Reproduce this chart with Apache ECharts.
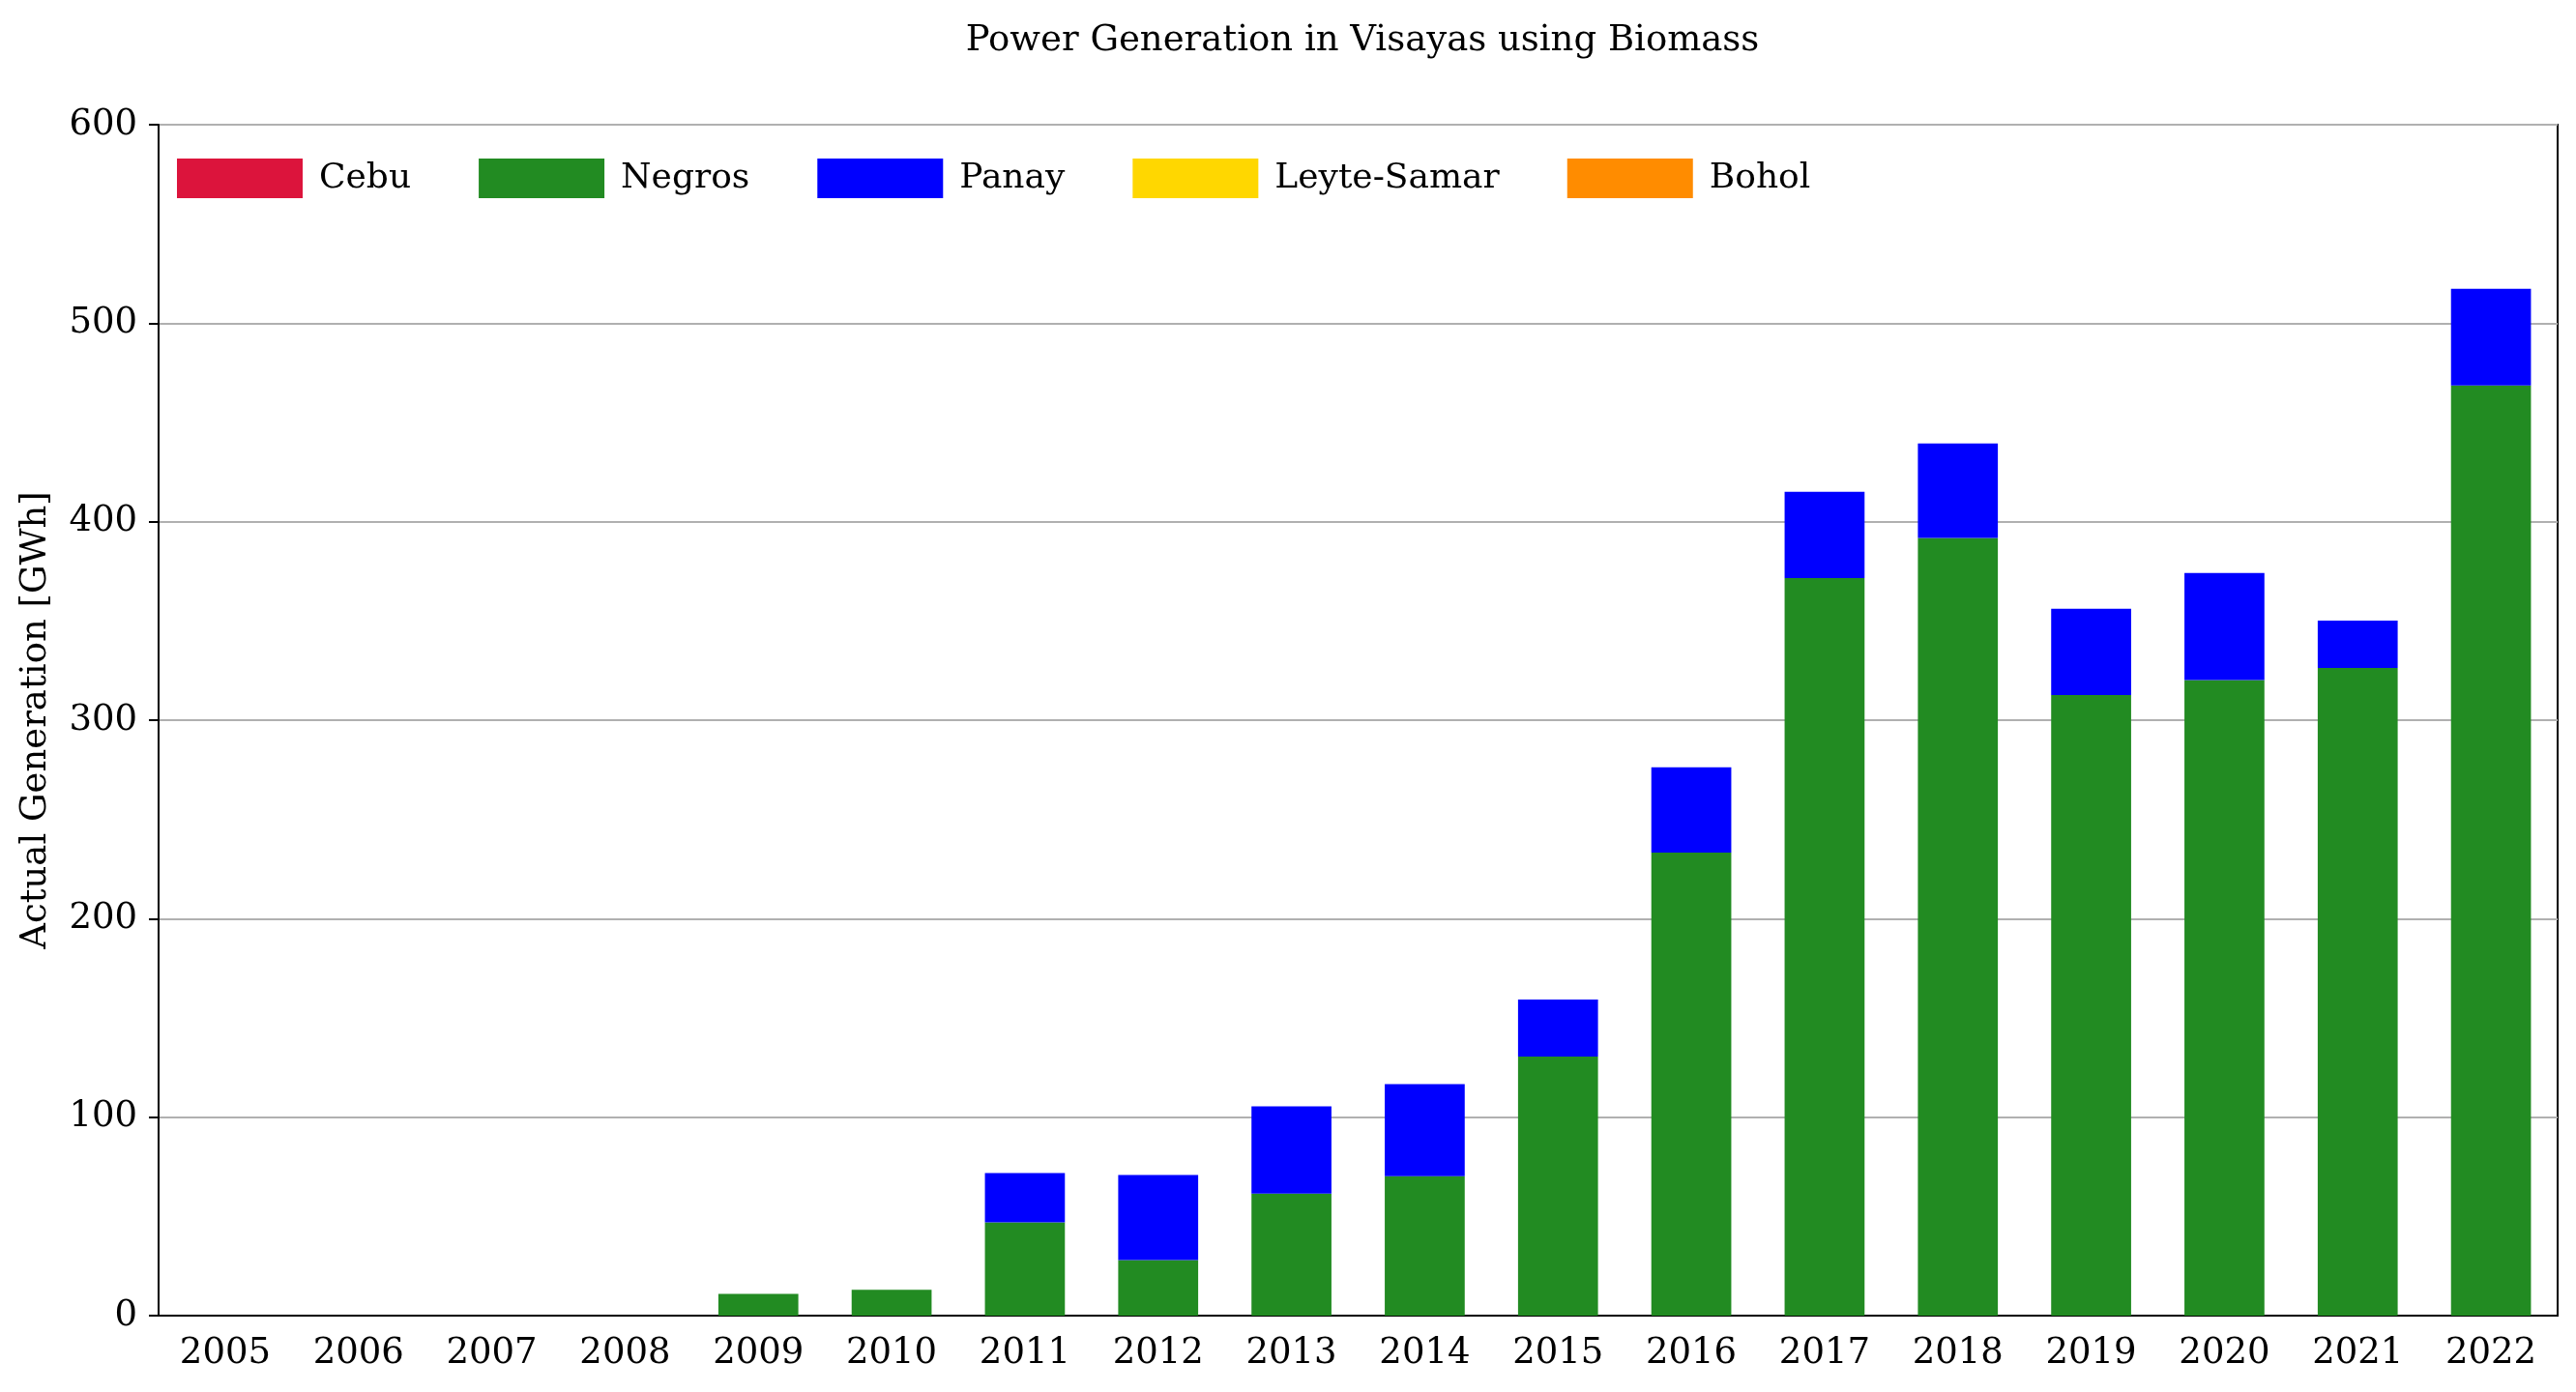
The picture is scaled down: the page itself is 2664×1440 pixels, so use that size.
<!DOCTYPE html>
<html>
<head>
<meta charset="utf-8">
<script src="https://cdn.jsdelivr.net/npm/echarts@6/dist/echarts.min.js"></script>
<style>
  html, body { margin: 0; padding: 0; background: #fff; }
  #chart { width: 2664px; height: 1440px; }
</style>
</head>
<body>
<div id="chart"></div>
<script>
const years = ['2005','2006','2007','2008','2009','2010','2011','2012','2013','2014','2015','2016','2017','2018','2019','2020','2021','2022'];
const cebu =       [0,0,0,0,0,0,0,0,0,0,0,0,0,0,0,0,0,0];
const negros =     [0,0,0,0,11,13,47,28,61.5,70.3,130.5,233.3,371.6,391.8,312.7,320.2,326.3,468.6];
const panay =      [0,0,0,0,0,0,24.8,42.9,43.9,46.3,28.8,43.0,43.4,47.6,43.4,53.9,23.9,48.7];
const leyteSamar = [0,0,0,0,0,0,0,0,0,0,0,0,0,0,0,0,0,0];
const bohol =      [0,0,0,0,0,0,0,0,0,0,0,0,0,0,0,0,0,0];
const seriesNames = ['Cebu','Negros','Panay','Leyte-Samar','Bohol'];
const seriesData = [cebu, negros, panay, leyteSamar, bohol];
const seriesColors = ['#DC143C','#228B22','#0000FF','#FFD700','#FF8C00'];

const FONT = 'DejaVu Serif';
const chart = echarts.init(document.getElementById('chart'), null, {renderer: 'canvas'});
chart.setOption({
  animation: false,
  backgroundColor: '#ffffff',
  title: {
    text: 'Power Generation in Visayas using Biomass',
    left: 1404, textAlign: 'center', top: 19,
    textStyle: {fontFamily: FONT, fontSize: 37, fontWeight: 'normal', color: '#000'}
  },
  legend: {
    left: 183, top: 164, padding: 0,
    itemWidth: 130, itemHeight: 41, itemGap: 70,
    icon: 'rect',
    textStyle: {fontFamily: FONT, fontSize: 36, color: '#000', padding: [5,0,0,12]},
    data: seriesNames
  },
  grid: {left: 164, right: 19, top: 129, bottom: 79, show: true, borderColor: '#000', borderWidth: 2, containLabel: false},
  xAxis: {
    type: 'category', data: years,
    axisLine: {lineStyle: {color: '#000', width: 2}},
    axisTick: {alignWithLabel: true, length: 10, lineStyle: {color: '#000', width: 2}},
    axisLabel: {fontFamily: FONT, fontSize: 37, color: '#000', margin: 21, interval: 0}
  },
  yAxis: {
    type: 'value', min: 0, max: 600, interval: 100,
    name: 'Actual Generation [GWh]', nameLocation: 'middle', nameGap: 108,
    nameTextStyle: {fontFamily: FONT, fontSize: 37, color: '#000'},
    axisLine: {show: true, lineStyle: {color: '#000', width: 2}},
    axisTick: {show: true, length: 10, lineStyle: {color: '#000', width: 2}},
    axisLabel: {fontFamily: FONT, fontSize: 37, color: '#000', margin: 22},
    splitLine: {show: true, lineStyle: {color: '#b0b0b0', width: 2}}
  },
  series: seriesNames.map((n, i) => ({
    name: n, type: 'bar', stack: 'total', data: seriesData[i],
    barWidth: '60%',
    itemStyle: {color: seriesColors[i]}
  }))
});
</script>
</body>
</html>
